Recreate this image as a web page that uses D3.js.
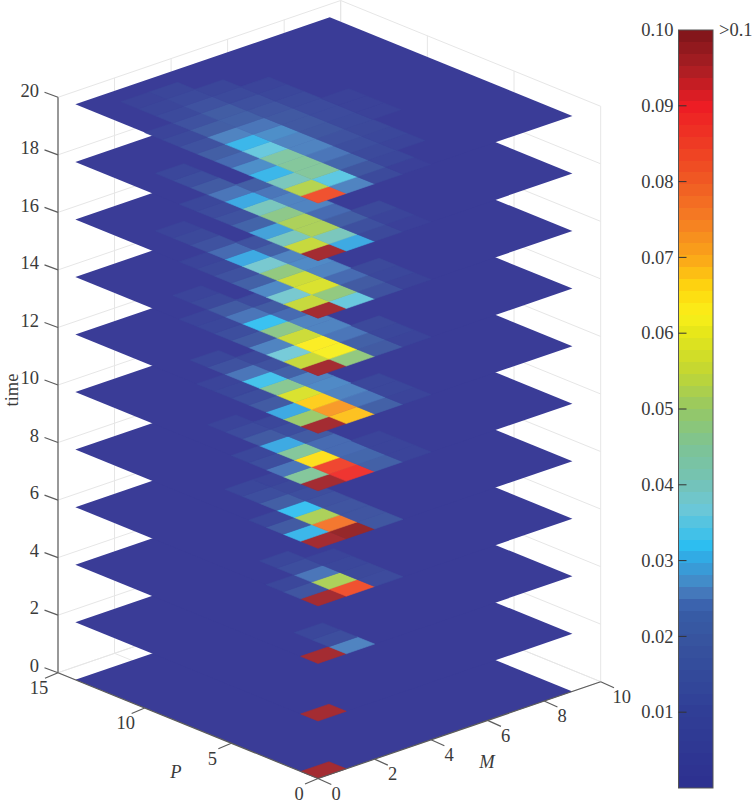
<!DOCTYPE html>
<html>
<head>
<meta charset="utf-8">
<script src="https://cdn.jsdelivr.net/npm/d3@7"></script>
<style>
  body { margin: 0; background: #fff; }
  text { font-family: "Liberation Serif", serif; font-size: 18.5px; fill: #3a3a3a; }
  .italic { font-style: italic; }
</style>
</head>
<body>
<svg id="chart" width="753" height="804"></svg>
<script>
// rows are M = 0, 1, 2 ..., values inside a row are P = 0, 1, 2 ... (missing = 0)
const t0 = [[.12]]
const t2 = [[.12]]
const t4 = [[.12], [.026, .012, .008]]
const t6 = [[.12, .015, .008], [.083, .052, .025, .012, .008], [.011, .009, .008, .006]]
const t8 = [[.12, .031, .018, .008], [.13, .077, .052, .032, .020, .012, .008], [.016, .015, .015, .014, .012, .009, .006]]
const t10 = [[.12, .045, .025, .012, .008], [.088, .085, .065, .045, .030, .018, .011, .006], [.021, .023, .024, .024, .018, .012, .008], [.006, .006, .006]]
const t12 = [[.12, .050, .030, .018, .012, .008, .006], [.068, .072, .067, .058, .046, .033, .025, .014, .008], [.021, .025, .026, .0265, .026, .021, .014, .009], [.006, .008, .008]]
const t14 = [[.12, .055, .037, .026, .018, .012, .008, .006], [.048, .062, .063, .056, .047, .032, .025, .018, .009, .006], [.018, .021, .025, .026, .026, .024, .018, .011], [.006, .008, .009]]
const t16 = [[.12, .055, .038, .0265, .021, .014, .009, .006], [.036, .048, .058, .056, .048, .038, .030, .024, .014, .009, .006], [.014, .018, .024, .026, .0265, .026, .021, .014], [.005, .008, .009]]
const t18 = [[.12, .055, .040, .029, .022, .014, .011, .008], [.030, .040, .052, .052, .047, .040, .030, .025, .018, .012, .008], [.009, .013, .020, .024, .026, .026, .025, .020], [.003, .006, .009]]
const t20 = [
  [.083, .053, .040, .031, .027, .024, .020, .014, .010, .006],
  [.026, .035, .045, .045, .044, .036, .031, .026, .020, .014, .010, .007, .005],
  [.010, .016, .023, .025, .026, .026, .027, .025, .021, .019, .014, .010, .007],
  [.003, .008, .010, .012, .014, .016, .017, .017, .015, .013, .010, .007],
  [0, 0, .006, .008, .009, .010, .011, .011, .010, .008, .006],
  [0, 0, 0, 0, 0, .004, .004, .004]
]

const times = [0, 2, 4, 6, 8, 10, 12, 14, 16, 18, 20]
const slices = [t0, t2, t4, t6, t8, t10, t12, t14, t16, t18, t20]
const pTicks = [0, 5, 10, 15]
const mTicks = [0, 2, 4, 6, 8, 10]
const barTicks = [.01, .02, .03, .04, .05, .06, .07, .08, .09, .10]
const pCells = 14
const mCells = 9
const barBands = 64

const colorStops = [0, .01, .02, .0226, .0244, .0261, .0278, .03, .032, .037, .04, .045, .05, .055, .06, .0625, .066, .07, .075, .08, .09, .095, .10]
const colorValues = ['#2d3090', '#303e96', '#37559f', '#375ba5', '#3c64af', '#467dbe', '#4191cd', '#32a5e1', '#2dbef0', '#6ec8d7', '#73c3b9', '#7dc396', '#96c864', '#c3d732', '#e6e619', '#faf019', '#ffd70f', '#faa519', '#f57d23', '#f05a23', '#ed1c24', '#aa1e23', '#7d1419']

const svg = d3.select('#chart')

/* projection of the 3d box */
const origin = [318, 778.5]
const pX = d3.scaleLinear([0, 15], [0, -260])
const pY = d3.scaleLinear([0, 15], [0, -105.8])
const mX = d3.scaleLinear([0, 10], [0, 282.7])
const mY = d3.scaleLinear([0, 10], [0, -96.8])
const tY = d3.scaleLinear([0, 20], [0, -575.4])

function project(p, m, t) {
  return [origin[0] + pX(p) + mX(m), origin[1] + pY(p) + mY(m) + tY(t)]
}

const barColor = d3.scaleLinear(colorStops, colorValues).clamp(true)
const overColor = d3.scaleLinear([.12, .13], ['#a42c32', '#96282a']).clamp(true)

function cellColor(v) {
  if (v > .1) return overColor(v)
  return d3.interpolateRgb(barColor(v), '#fff')(.06)
}

/* back walls and floor */
const gridLines = []
times.forEach(t => {
  gridLines.push([project(15, 0, t), project(15, 10, t)])
  gridLines.push([project(15, 10, t), project(0, 10, t)])
})
mTicks.forEach(m => {
  gridLines.push([project(15, m, 0), project(15, m, 20)])
  gridLines.push([project(0, m, 0), project(15, m, 0)])
})
pTicks.forEach(p => {
  gridLines.push([project(p, 10, 0), project(p, 10, 20)])
  gridLines.push([project(p, 0, 0), project(p, 10, 0)])
})

const line = d3.line()

svg.append('g').selectAll('path')
  .data(gridLines)
  .join('path')
  .attr('d', line)
  .attr('fill', 'none')
  .attr('stroke', '#e6e6e6')
  .attr('stroke-width', 1)

/* one flat slice per time, lowest first so the upper ones cover it */
svg.append('g').selectAll('g')
  .data(times)
  .join('g')
  .each(function (t, k) {
    const g = d3.select(this)
    g.append('path')
      .attr('d', line([
        project(0, 0, t),
        project(pCells, 0, t),
        project(pCells, mCells, t),
        project(0, mCells, t)
      ]) + 'Z')
      .attr('fill', cellColor(0))

    const cells = []
    slices[k].forEach((row, m) => {
      row.forEach((v, p) => {
        if (v > 0) cells.push({ p, m, v })
      })
    })
    g.selectAll('path.cell')
      .data(cells)
      .join('path')
      .attr('class', 'cell')
      .attr('d', d => line([
        project(d.p, d.m, t),
        project(d.p + 1, d.m, t),
        project(d.p + 1, d.m + 1, t),
        project(d.p, d.m + 1, t)
      ]) + 'Z')
      .attr('fill', d => cellColor(d.v))
      .attr('stroke', d => cellColor(d.v))
      .attr('stroke-width', .6)
  })

/* axes */
const axisColor = '#5c5c5c'
const axisLines = [
  [project(15, 0, 0), project(15, 0, 20)],
  [project(15, 0, 0), project(0, 0, 0)],
  [project(0, 0, 0), project(0, 10, 0)]
]
times.forEach(t => {
  const a = project(15, 0, t)
  axisLines.push([a, [a[0] - 13.5, a[1] - 5]])
})
pTicks.forEach(p => {
  const a = project(p, 0, 0)
  axisLines.push([a, [a[0] - 13, a[1] + 5.5]])
})
mTicks.forEach(m => {
  const a = project(0, m, 0)
  axisLines.push([a, [a[0] + 13.3, a[1] + 6]])
})

svg.append('g').selectAll('path')
  .data(axisLines)
  .join('path')
  .attr('d', line)
  .attr('fill', 'none')
  .attr('stroke', axisColor)
  .attr('stroke-width', 1.2)

svg.append('g').selectAll('text')
  .data(times)
  .join('text')
  .attr('x', d => project(15, 0, d)[0] - 19)
  .attr('y', d => project(15, 0, d)[1] - 7)
  .attr('dy', '.34em')
  .attr('text-anchor', 'end')
  .text(d => d)

svg.append('g').selectAll('text')
  .data(pTicks)
  .join('text')
  .attr('x', d => project(d, 0, 0)[0] - 19)
  .attr('y', d => project(d, 0, 0)[1] + 15)
  .attr('dy', '.34em')
  .attr('text-anchor', 'middle')
  .text(d => d)

svg.append('g').selectAll('text')
  .data(mTicks)
  .join('text')
  .attr('x', d => project(0, d, 0)[0] + 18 + (d === 10 ? 3 : 0))
  .attr('y', d => project(0, d, 0)[1] + 15)
  .attr('dy', '.34em')
  .attr('text-anchor', 'middle')
  .text(d => d)

svg.append('text').attr('class', 'italic').attr('x', 176).attr('y', 772).attr('dy', '.34em')
  .attr('text-anchor', 'middle').text('P')
svg.append('text').attr('class', 'italic').attr('x', 487).attr('y', 762).attr('dy', '.34em')
  .attr('text-anchor', 'middle').text('M')
svg.append('text')
  .attr('transform', 'translate(12,390) rotate(-90)')
  .attr('dy', '.3em')
  .attr('text-anchor', 'middle')
  .text('time')

/* colour bar */
const barY = d3.scaleLinear([0, .1], [788, 30])
const barX = [678.5, 713]
const band = d3.scaleBand(d3.range(barBands), [788, 30])

svg.append('g').selectAll('rect')
  .data(d3.range(barBands))
  .join('rect')
  .attr('x', barX[0])
  .attr('width', barX[1] - barX[0])
  .attr('y', d => band(d))
  .attr('height', band.bandwidth() + .3)
  .attr('fill', d => barColor((d + .5) / barBands * .1))
  .attr('shape-rendering', 'crispEdges')

svg.append('rect')
  .attr('x', barX[0])
  .attr('y', barY(.1))
  .attr('width', barX[1] - barX[0])
  .attr('height', barY(0) - barY(.1))
  .attr('fill', 'none')
  .attr('stroke', '#555')
  .attr('stroke-width', 1)

svg.append('g').selectAll('line')
  .data(barTicks.slice(0, -1))
  .join('line')
  .attr('x1', barX[0])
  .attr('x2', barX[0] + 8)
  .attr('y1', d => barY(d))
  .attr('y2', d => barY(d))
  .attr('stroke', '#333')

svg.append('g').selectAll('text')
  .data(barTicks)
  .join('text')
  .attr('x', 673.5)
  .attr('y', d => barY(d))
  .attr('dy', '.34em')
  .attr('text-anchor', 'end')
  .text(d => d.toFixed(2))

svg.append('text')
  .attr('x', 719)
  .attr('y', barY(.1))
  .attr('dy', '.34em')
  .text('>0.1')
</script>
</body>
</html>
